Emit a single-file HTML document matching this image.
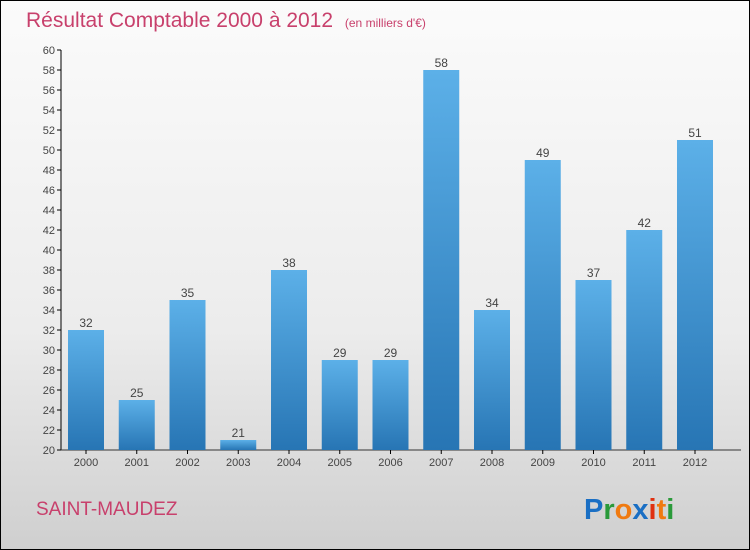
<!DOCTYPE html>
<html><head><meta charset="utf-8"><style>
body{margin:0;}
#wrap{width:748px;height:548px;border:1px solid #000;background:linear-gradient(#fbfbfb 0%,#ececec 60%,#cfcfcf 100%);position:relative;overflow:hidden;font-family:"Liberation Sans",sans-serif;}
</style></head><body>
<div id="wrap">
<svg width="748" height="548" id="svg">
<defs><linearGradient id="bg" x1="0" y1="0" x2="0" y2="1"><stop offset="0" stop-color="#5cb0e8"/><stop offset="1" stop-color="#2775b4"/></linearGradient></defs>
<text x="25" y="26" font-size="21" fill="#c8406c">Résultat Comptable 2000 à 2012 <tspan font-size="12" dx="6">(en milliers d'€)</tspan></text>
<text x="35" y="514" font-size="19" fill="#c8406c">SAINT-MAUDEZ</text>
<text x="583" y="518" font-size="29" font-weight="bold"><tspan fill="#1a6fc4">P</tspan><tspan fill="#2a9a3a">r</tspan><tspan fill="#f07a10">o</tspan><tspan fill="#1a6fc4">x</tspan><tspan fill="#e03010">i</tspan><tspan fill="#f07a10">t</tspan><tspan fill="#2a9a3a">i</tspan></text>
<g id="g"></g>
</svg></div>
<script>
const years=["2000","2001","2002","2003","2004","2005","2006","2007","2008","2009","2010","2011","2012"];
const values=[32,25,35,21,38,29,29,58,34,49,37,42,51];
const yTicks=[20,22,24,26,28,30,32,34,36,38,40,42,44,46,48,50,52,54,56,58,60];
const NS="http://www.w3.org/2000/svg";
const g=document.getElementById('g');
const y=v=>449-(v-20)*10;
const x=i=>85+i*50.75;
function mk(t,a,txt){const e=document.createElementNS(NS,t);for(const k in a)e.setAttribute(k,a[k]);if(txt!=null)e.textContent=txt;g.appendChild(e);return e;}
let ax=mk('line',{x1:60,y1:49,x2:60,y2:449,stroke:'#000'});


let xa=mk('line',{x1:60,y1:449,x2:740,y2:449,stroke:'#333'});


yTicks.forEach(v=>{
 mk('line',{x1:56,y1:y(v),x2:60,y2:y(v),stroke:'#000'});
 let t=mk('text',{x:54,y:y(v)+4,'font-size':11,fill:'#444','text-anchor':'end'},v);
 
 
});
years.forEach((yr,i)=>{
 let b=mk('rect',{x:x(i)-18,y:y(values[i]),width:36,height:449-y(values[i]),fill:'url(#bg)'});
 
 
 mk('line',{x1:x(i),y1:449,x2:x(i),y2:453,stroke:'#000'});
 let t=mk('text',{x:x(i),y:465,'font-size':11,fill:'#444','text-anchor':'middle'},yr);
 
 
 let v=mk('text',{x:x(i),y:y(values[i])-3,'font-size':12,fill:'#444','text-anchor':'middle'},values[i]);
 
 
});
</script>
</body></html>
